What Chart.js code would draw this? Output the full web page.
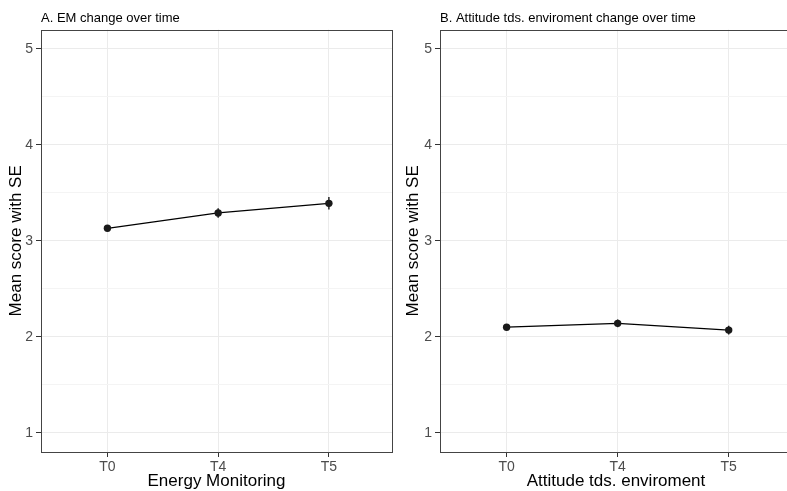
<!DOCTYPE html>
<html>
<head>
<meta charset="utf-8">
<script src="https://cdn.jsdelivr.net/npm/chart.js@4.4.1/dist/chart.umd.min.js"></script>
<style>
  html, body { margin: 0; padding: 0; background: #fff; }
  #wrap { position: relative; width: 787px; height: 491px; overflow: hidden; background: #fff; }
  .panel { position: absolute; top: 0; height: 491px; }
</style>
</head>
<body>
<div id="wrap">
  <div class="panel" style="left:0;width:397px"><canvas id="panelA" width="397" height="491"></canvas></div>
  <div class="panel" style="left:397px;width:400px"><canvas id="panelB" width="400" height="491"></canvas></div>
</div>
<script>
// data
const timePoints = ['T0', 'T4', 'T5'];
const emMeans = [3.13, 3.29, 3.39];
const emSE = [0.03, 0.05, 0.065];
const attMeans = [2.10, 2.14, 2.07];
const attSE = [0.03, 0.04, 0.045];
const yTicks = [1, 2, 3, 4, 5];

const FONT = "'Liberation Sans', Arial, Helvetica, sans-serif";

// error bars, drawn through the chart's own scales
const errorBars = {
  id: 'errorBars',
  beforeDatasetsDraw(chart, args, opts) {
    const { ctx, scales: { x, y } } = chart;
    const means = opts.means, se = opts.se;
    ctx.save();
    ctx.strokeStyle = '#1a1a1a';
    ctx.lineWidth = 1.4;
    means.forEach((m, i) => {
      const px = x.getPixelForValue(i);
      ctx.beginPath();
      ctx.moveTo(px, y.getPixelForValue(m - se[i]));
      ctx.lineTo(px, y.getPixelForValue(m + se[i]));
      ctx.stroke();
    });
    ctx.restore();
  }
};

// ggplot-like panel border
const panelBorder = {
  id: 'panelBorder',
  afterDatasetsDraw(chart) {
    const { ctx, chartArea: a } = chart;
    ctx.save();
    ctx.strokeStyle = '#444';
    ctx.lineWidth = 1;
    ctx.strokeRect(Math.round(a.left) + 0.5, Math.round(a.top) + 0.5,
      Math.round(a.right - a.left), Math.round(a.bottom - a.top));
    ctx.restore();
  }
};

function makePanel(id, title, xTitle, means, se, yWidth) {
  const minorTicks = [];
  for (let v = 1; v <= 5; v += 0.5) minorTicks.push(v);

  new Chart(document.getElementById(id), {
    type: 'line',
    data: {
      datasets: [{
        data: means.map((m, i) => ({ x: i, y: m })),
        borderColor: '#000',
        borderWidth: 1.2,
        pointRadius: 3.7,
        pointBackgroundColor: '#1a1a1a',
        pointBorderColor: '#1a1a1a',
        pointBorderWidth: 0,
        tension: 0
      }]
    },
    options: {
      responsive: false,
      animation: false,
      devicePixelRatio: 1,
      layout: { padding: { left: 0, right: 5, top: 0, bottom: 0 } },
      plugins: {
        legend: { display: false },
        tooltip: { enabled: false },
        title: {
          display: true,
          text: title,
          align: 'start',
          fullSize: false,
          color: '#000',
          font: { family: FONT, size: 13, weight: 'normal', lineHeight: 1.2 },
          padding: { top: 11, bottom: 3 }
        },
        errorBars: { means: means, se: se }
      },
      scales: {
        x: {
          type: 'linear',
          min: -0.6,
          max: 2.57,
          afterBuildTicks: s => { s.ticks = timePoints.map((t, i) => ({ value: i })); },
          afterFit: s => { s.height = 39; },
          ticks: {
            autoSkip: false,
            maxRotation: 0,
            padding: 2,
            color: '#4d4d4d',
            font: { family: FONT, size: 14 },
            callback: v => timePoints[v]
          },
          grid: { color: '#ebebeb', lineWidth: 1, tickColor: '#333', tickLength: 5 },
          border: { display: false },
          title: {
            display: true,
            text: xTitle,
            color: '#000',
            font: { family: FONT, size: 17, lineHeight: 1.1 },
            padding: { top: 0, bottom: 0 }
          }
        },
        y: {
          type: 'linear',
          min: 0.8,
          max: 5.2,
          afterBuildTicks: s => { s.ticks = minorTicks.map(v => ({ value: v })); },
          afterFit: s => { s.width = yWidth; },
          ticks: {
            autoSkip: false,
            padding: 3,
            color: '#4d4d4d',
            font: { family: FONT, size: 14 },
            callback: v => (yTicks.includes(v) ? String(v) : '')
          },
          grid: {
            color: c => (yTicks.includes(c.tick.value) ? '#ebebeb' : '#f4f4f4'),
            lineWidth: 1,
            tickColor: c => (yTicks.includes(c.tick.value) ? '#333' : 'rgba(0,0,0,0)'),
            tickLength: 5
          },
          border: { display: false },
          title: {
            display: true,
            text: 'Mean score with SE',
            color: '#000',
            font: { family: FONT, size: 17, lineHeight: 1.1 },
            padding: { top: 7, bottom: 0 }
          }
        }
      }
    },
    plugins: [errorBars, panelBorder]
  });
}

makePanel('panelA', 'A. EM change over time', 'Energy Monitoring', emMeans, emSE, 41);
makePanel('panelB', 'B. Attitude tds. enviroment change over time', 'Attitude tds. enviroment', attMeans, attSE, 43);
</script>
</body>
</html>
